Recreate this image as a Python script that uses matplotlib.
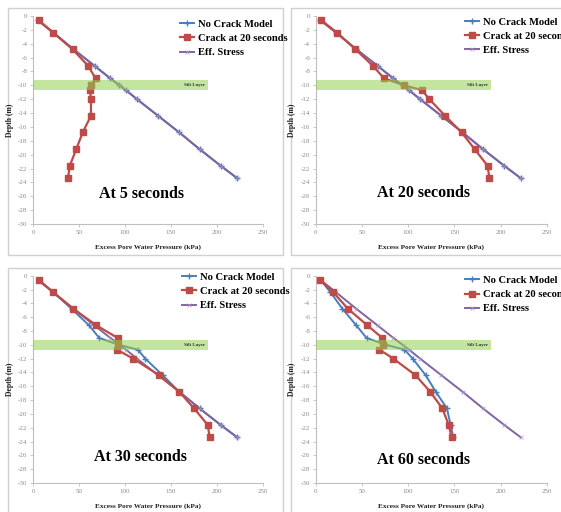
import matplotlib
matplotlib.use("Agg")
import matplotlib.pyplot as plt
from matplotlib.patches import Rectangle

# ---------------- data ----------------
depth = [-0.6, -2.4, -4.8, -7.2, -9.0, -10.0, -10.7, -12.0, -14.4, -16.8, -19.2, -21.6, -23.4]
eff_stress = [5, 22, 44, 67, 84, 94, 101, 113, 136, 159, 181, 204, 222]

titles = ["At 5 seconds", "At 20 seconds", "At 30 seconds", "At 60 seconds"]

no_crack_5 = [5, 22, 44, 67, 84, 94, 101, 113, 136, 159, 181, 204, 222]
crack_5 = [6, 22, 43, 60, 68, 63, 62, 63, 63, 54, 47, 40, 38]

no_crack_20 = [5, 22, 44, 67, 84, 94, 101, 113, 136, 159, 181, 204, 222]
crack_20 = [6, 23, 43, 62, 74, 96, 115, 123, 140, 158, 172, 186, 188]

no_crack_30 = [6, 22, 42, 61, 72, 93, 114, 122, 141, 159, 181, 204, 222]
crack_30 = [6, 22, 44, 69, 92, 92, 91, 109, 137, 159, 175, 190, 192]

no_crack_60 = [5, 16, 29, 44, 55, 76, 96, 105, 119, 130, 142, 146, 149]
crack_60 = [5, 19, 35, 56, 72, 73, 69, 84, 108, 124, 137, 144, 147]

no_crack = [no_crack_5, no_crack_20, no_crack_30, no_crack_60]
crack = [crack_5, crack_20, crack_30, crack_60]

series_labels = ["No Crack Model", "Crack at 20 seconds", "Eff. Stress"]
silt_label = "Silt Layer"
silt_top, silt_bottom, silt_right = -9.3, -10.7, 190
xlabel = "Excess Pore Water Pressure (kPa)"
ylabel = "Depth (m)"
xticks = [0, 50, 100, 150, 200, 250]
yticks = list(range(0, -31, -2))

# ---------------- style ----------------
W, H = 561, 512
fig = plt.figure(figsize=(W / 100, H / 100), dpi=100)
fig.patch.set_facecolor("white")

SERIF = ["Liberation Serif", "DejaVu Serif"]
BLUE = "#4A7EBB"
RED = "#BE4B48"
PURPLE = "#8064A2"
GREEN = "#92D050"
GRID = "#BFBFBF"
TICKC = "#8A8A8A"

def px_rect(x0, y0, x1, y1):
    return [x0 / W, 1 - y1 / H, (x1 - x0) / W, (y1 - y0) / H]

frames = [(8, 8, 283, 255), (291, 8, 570, 255), (8, 268, 283, 520), (291, 268, 570, 520)]
axes_px = [(33, 16, 263, 224), (315.7, 16, 546.7, 224),
           (33, 275.7, 263, 483), (315.7, 275.7, 546.7, 483)]
legend_anchor = [(0.639, 0.983), (0.646, 0.993), (0.648, 1.015), (0.646, 1.0)]
title_pos = [(118, -25.7), (117, -25.5), (117, -26.3), (117, -26.6)]

for fr in frames:
    fig.patches.append(Rectangle((fr[0] / W, 1 - fr[3] / H), (fr[2] - fr[0]) / W,
                                 (fr[3] - fr[1]) / H, transform=fig.transFigure,
                                 facecolor="none", edgecolor="#D0D0D0", linewidth=1.0,
                                 zorder=-1))

for i in range(4):
    x0, y0, x1, y1 = axes_px[i]
    ax = fig.add_axes(px_rect(x0, y0, x1, y1))
    ax.patch.set_alpha(0)
    ax.plot(no_crack[i], depth, color=BLUE, marker="+", markersize=4.5,
            markeredgewidth=1.0, linewidth=1.4, zorder=2, label=series_labels[0])
    ax.plot(crack[i], depth, color=RED, marker="s", markersize=3.8,
            linewidth=1.6, zorder=4, label=series_labels[1])
    ax.plot(eff_stress, depth, color=PURPLE, marker="x", markersize=2.8,
            markeredgewidth=0.5, markeredgecolor="#A898C0", linewidth=1.4, zorder=3,
            label=series_labels[2])
    ax.add_patch(Rectangle((0, silt_bottom), silt_right, silt_top - silt_bottom,
                           facecolor=GREEN, alpha=0.55, edgecolor="none", zorder=5))
    ax.text(silt_right - 3, (silt_top + silt_bottom) / 2, silt_label, fontsize=3.6,
            family=SERIF, fontweight="bold", color="#333333", ha="right", va="center",
            zorder=6)
    ax.set_xlim(0, 250)
    ax.set_ylim(-30, 0)
    ax.set_xticks(xticks)
    ax.set_yticks(yticks)
    ax.set_xticklabels([str(v) for v in xticks])
    ax.set_yticklabels([str(v) for v in yticks])
    for s in ["top", "right"]:
        ax.spines[s].set_visible(False)
    for s in ["left", "bottom"]:
        ax.spines[s].set_color(GRID)
        ax.spines[s].set_linewidth(0.8)
    ax.tick_params(axis="both", length=2, width=0.6, color=GRID, labelsize=5,
                   labelcolor=TICKC, pad=2)
    for lab in ax.get_xticklabels() + ax.get_yticklabels():
        lab.set_family(SERIF)
    ax.set_xlabel(xlabel, fontsize=5.2, family=SERIF, fontweight="bold",
                  color="#222222", labelpad=7)
    ax.set_ylabel(ylabel, fontsize=5.5, family=SERIF, fontweight="bold",
                  color="#222222", labelpad=3)
    ax.text(title_pos[i][0], title_pos[i][1], titles[i], fontsize=11.5, family=SERIF,
            fontweight="bold", ha="center", va="center", color="black", zorder=7)
    leg = ax.legend(loc="upper left", bbox_to_anchor=legend_anchor[i], frameon=False,
                    prop={"family": SERIF, "size": 7.6, "weight": "bold"},
                    handlelength=1.3, handletextpad=0.4, labelspacing=0.45,
                    borderpad=0, borderaxespad=0)
    leg.set_zorder(8)

fig.savefig("out.png", dpi=100, facecolor="white")
